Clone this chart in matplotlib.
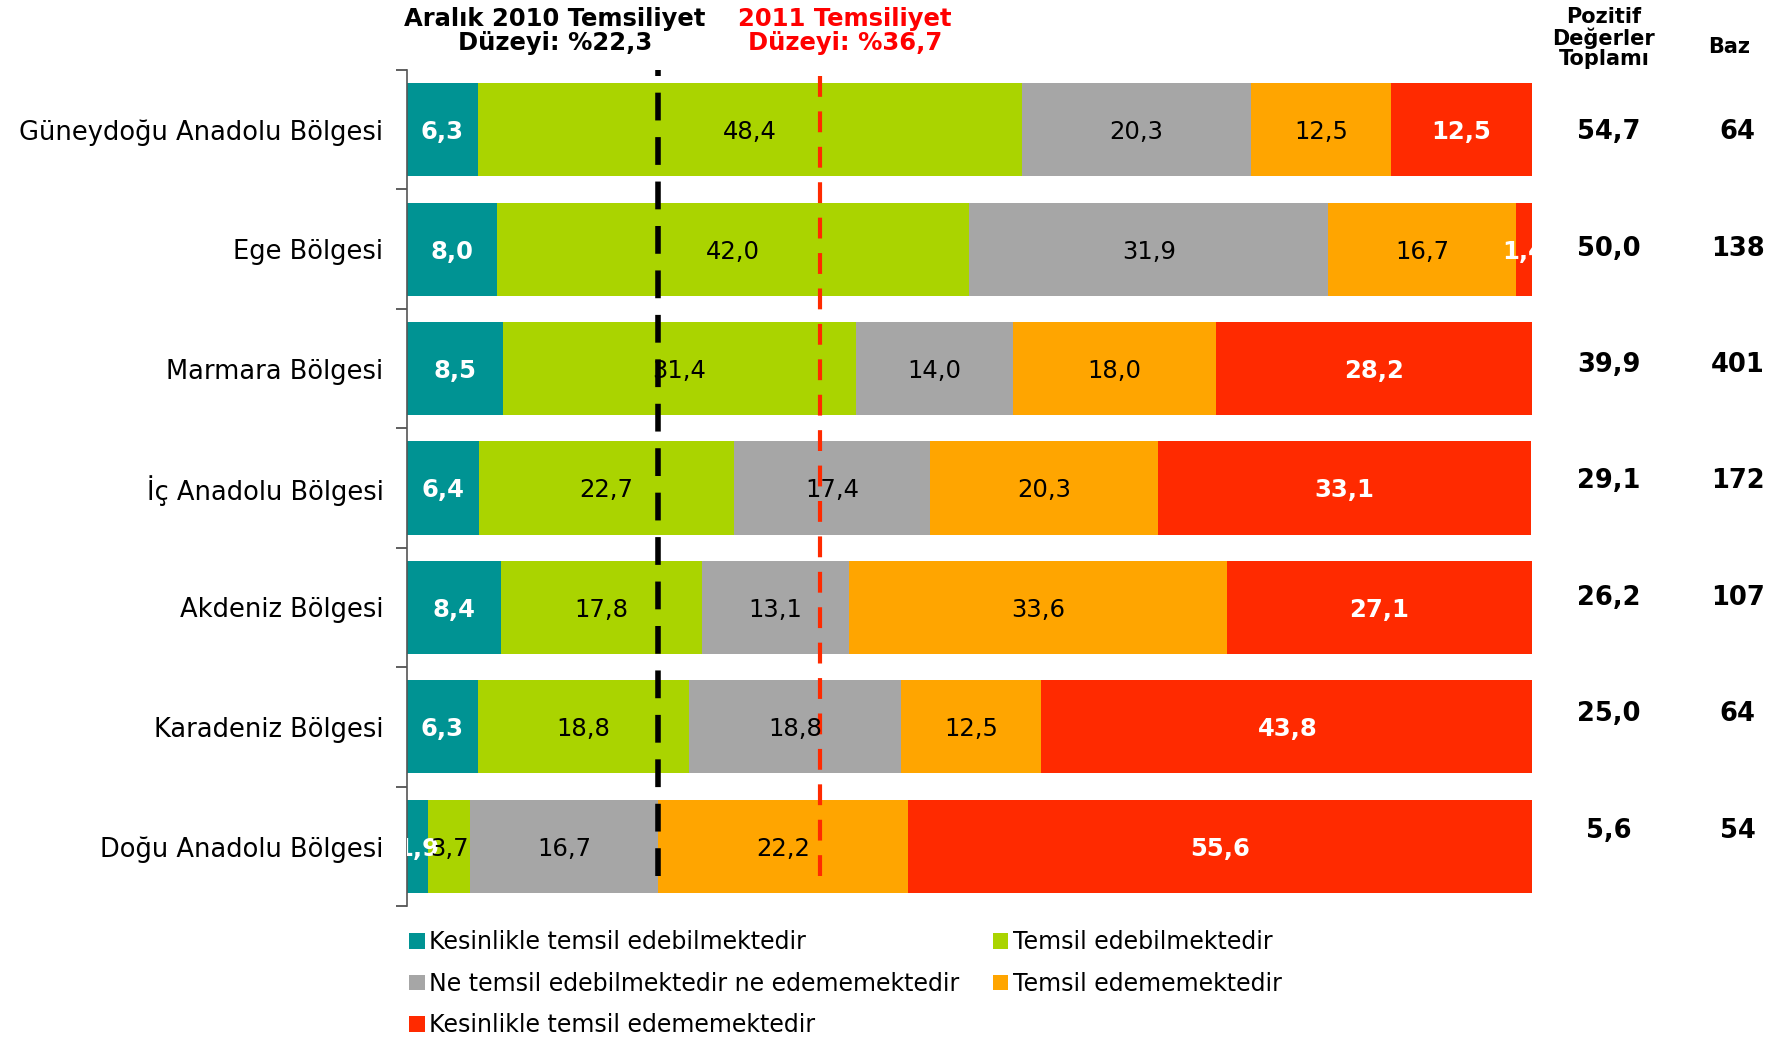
import numpy as np
import matplotlib.pyplot as plt
from matplotlib.patches import Patch

regions = ["Güneydoğu Anadolu Bölgesi", "Ege Bölgesi", "Marmara Bölgesi",
           "İç Anadolu Bölgesi", "Akdeniz Bölgesi", "Karadeniz Bölgesi",
           "Doğu Anadolu Bölgesi"]

kesinlikle_eder = [6.3, 8.0, 8.5, 6.4, 8.4, 6.3, 1.9]
eder = [48.4, 42.0, 31.4, 22.7, 17.8, 18.8, 3.7]
ne_ne = [20.3, 31.9, 14.0, 17.4, 13.1, 18.8, 16.7]
edemez = [12.5, 16.7, 18.0, 20.3, 33.6, 12.5, 22.2]
kesinlikle_edemez = [12.5, 1.4, 28.2, 33.1, 27.1, 43.8, 55.6]

pozitif = [54.7, 50.0, 39.9, 29.1, 26.2, 25.0, 5.6]
baz = [64, 138, 401, 172, 107, 64, 54]

level_2010 = 22.3
level_2011 = 36.7

series_names = ["Kesinlikle temsil edebilmektedir", "Temsil edebilmektedir",
                "Ne temsil edebilmektedir ne edememektedir", "Temsil edememektedir",
                "Kesinlikle temsil edememektedir"]
colors = ["#009393", "#AAD400", "#A6A6A6", "#FFA500", "#FF2A00"]
label_colors = ["white", "black", "black", "black", "white"]
label_weights = ["bold", "normal", "normal", "normal", "bold"]


def fmt(v):
    return f"{v:.1f}".replace(".", ",")


fig = plt.figure(figsize=(17.75, 10.37), dpi=100)
ax = fig.add_axes([0.2293, 0.1263, 0.8630 - 0.2293, 0.9325 - 0.1263])

y = np.arange(len(regions))
data = [kesinlikle_eder, eder, ne_ne, edemez, kesinlikle_edemez]
left = np.zeros(len(regions))
for vals, col, lc, lw in zip(data, colors, label_colors, label_weights):
    vals = np.array(vals)
    ax.barh(y, vals, left=left, height=0.78, color=col, edgecolor="none")
    for yi, l, v in zip(y, left, vals):
        ax.text(l + v / 2, yi + 0.02, fmt(v), ha="center", va="center",
                color=lc, fontsize=17.5, fontweight=lw, clip_on=True)
    left += vals

ax.set_xlim(0, 100)
ax.set_ylim(len(regions) - 0.5, -0.5)

# reference level lines
ax.axvline(level_2010, ymin=0.036, ymax=1.0, color="black", lw=4,
           dashes=(5, 3))
ax.axvline(level_2011, ymin=0.036, ymax=1.0, color="#FF2A00", lw=3,
           dashes=(5, 3.5))

ax.set_yticks(y)
ax.set_yticklabels(regions, fontsize=18.5)
ax.set_yticks(np.arange(-0.5, len(regions)), minor=True)
ax.tick_params(axis="y", which="major", length=0, pad=17)
ax.tick_params(axis="y", which="minor", length=8, width=1.2, color="#444444")
ax.set_xticks([])
for s in ["top", "right", "bottom"]:
    ax.spines[s].set_visible(False)
ax.spines["left"].set_color("#555555")
ax.spines["left"].set_linewidth(1.2)

# header texts
fig.text(555 / 1775, 1 - 31 / 1037, "Aralık 2010 Temsiliyet\nDüzeyi: %22,3",
         ha="center", va="center", fontsize=17.5, fontweight="bold",
         linespacing=1.0)
fig.text(845 / 1775, 1 - 31 / 1037, "2011 Temsiliyet\nDüzeyi: %36,7",
         ha="center", va="center", fontsize=17.5, fontweight="bold",
         color="#FF0000", linespacing=1.0)
fig.text(1604 / 1775, 1 - 38 / 1037, "Pozitif\nDeğerler\nToplamı",
         ha="center", va="center", fontsize=15, fontweight="bold",
         linespacing=1.0)
fig.text(1729 / 1775, 1 - 47 / 1037, "Baz", ha="center", va="center",
         fontsize=15, fontweight="bold")

# right-side columns
for i, (p, b) in enumerate(zip(pozitif, baz)):
    yy = i * 0.975 + 0.02
    ax.text(1.0 + (1609 - 1532) / (1532 - 407), yy, fmt(p),
            transform=ax.get_yaxis_transform(), ha="center", va="center",
            fontsize=18.5, fontweight="bold", clip_on=False)
    ax.text(1.0 + (1738 - 1532) / (1532 - 407), yy, str(b),
            transform=ax.get_yaxis_transform(), ha="center", va="center",
            fontsize=18.5, fontweight="bold", clip_on=False)

# legend filled row by row like the original
order = [0, 2, 4, 1, 3]
handles = [Patch(facecolor=colors[k], edgecolor="none") for k in order]
fig.legend(handles, [series_names[k] for k in order], loc="upper left",
           bbox_to_anchor=(388 / 1775, 1 - 909 / 1037), ncol=2, frameon=False,
           fontsize=17, handlelength=0.65, handleheight=0.65, handletextpad=0.2,
           columnspacing=1.4, labelspacing=0.74)

fig.savefig("out.png", dpi=100)
